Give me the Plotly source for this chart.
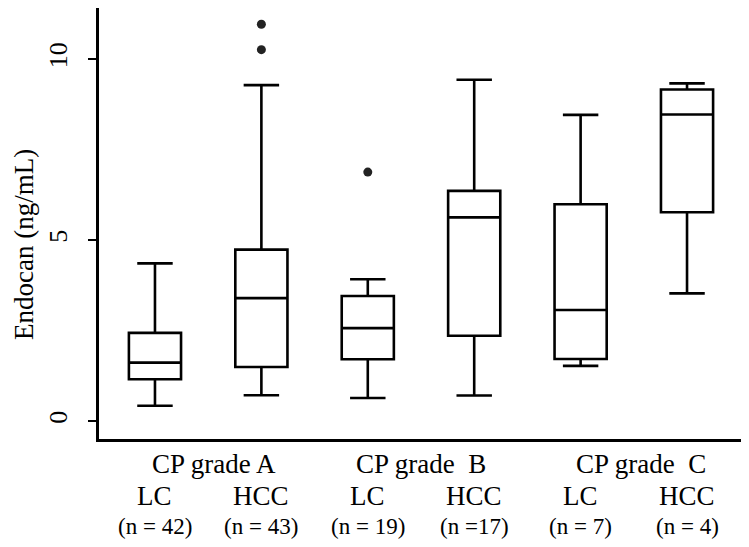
import plotly.graph_objects as go

# ---- data ----
positions = [0, 1, 2, 3, 4, 5]
groups = ["CP grade A", "CP grade\u00a0 B", "CP grade\u00a0 C"]
group_pos = [0.55, 2.5, 4.57]
diagnoses = ["LC", "HCC", "LC", "HCC", "LC", "HCC"]
n_labels = ["(n = 42)", "(n = 43)", "(n = 19)", "(n =17)", "(n = 7)", "(n = 4)"]

q1 = [1.16, 1.50, 1.71, 2.36, 1.72, 5.77]
median = [1.62, 3.40, 2.57, 5.63, 3.07, 8.47]
q3 = [2.44, 4.74, 3.46, 6.36, 5.99, 9.16]
lower = [0.43, 0.72, 0.64, 0.71, 1.53, 3.53]
upper = [4.36, 9.28, 3.92, 9.43, 8.46, 9.33]

outlier_pos = [1, 1, 2]
outlier_val = [10.96, 10.26, 6.88]

y_ticks = [0, 5, 10]

FONT = "Liberation Serif, Times New Roman, serif"

fig = go.Figure()
fig.add_trace(go.Box(
    x=positions, q1=q1, median=median, q3=q3,
    lowerfence=lower, upperfence=upper,
    width=0.49, whiskerwidth=0.68,
    fillcolor="white", line=dict(color="black", width=2.6),
    boxpoints=False, showlegend=False, hoverinfo="skip",
))
fig.add_trace(go.Scatter(
    x=outlier_pos, y=outlier_val, mode="markers",
    marker=dict(size=9, color="#222222", line=dict(width=0)),
    showlegend=False, hoverinfo="skip",
))

H_PLOT_BOTTOM = 438.7  # px from top (page coordinates)

def row_shift(py):
    return -(py - H_PLOT_BOTTOM)

annotations = []
for g, gx in zip(groups, group_pos):
    annotations.append(dict(x=gx, y=0, xref="x", yref="paper", text=g,
                            showarrow=False, yanchor="middle", yshift=row_shift(464),
                            font=dict(family=FONT, size=27, color="black")))
for p, d, n in zip(positions, diagnoses, n_labels):
    annotations.append(dict(x=p, y=0, xref="x", yref="paper", text=d,
                            showarrow=False, yanchor="middle", yshift=row_shift(496),
                            font=dict(family=FONT, size=27, color="black")))
    annotations.append(dict(x=p, y=0, xref="x", yref="paper", text=n,
                            showarrow=False, yanchor="middle", yshift=row_shift(526),
                            font=dict(family=FONT, size=23, color="black")))

annotations.append(dict(x=0, y=0.45, xref="paper", yref="paper",
                        text="Endocan (ng/mL)", textangle=-90, showarrow=False,
                        xanchor="center", yanchor="middle", xshift=-75,
                        font=dict(family=FONT, size=27, color="black")))

fig.update_layout(
    width=749, height=547,
    margin=dict(l=91, r=9, t=0, b=116),
    paper_bgcolor="white", plot_bgcolor="white",
    annotations=annotations,
    xaxis=dict(range=[-0.526, 5.573], showgrid=False, zeroline=False,
               showticklabels=False, ticks="", showline=True,
               linecolor="black", linewidth=2.5),
    yaxis=dict(range=[-0.49, 11.41], showgrid=False, zeroline=False,
               tickvals=y_ticks, ticktext=[str(v) for v in y_ticks],
               ticks="outside", ticklen=8, tickwidth=2.2, tickcolor="black",
               tickangle=-90, ticklabelstandoff=11,
               tickfont=dict(family=FONT, size=26, color="black"),
               showline=True, linecolor="black", linewidth=2.5),
)

fig.write_html("out.html")
